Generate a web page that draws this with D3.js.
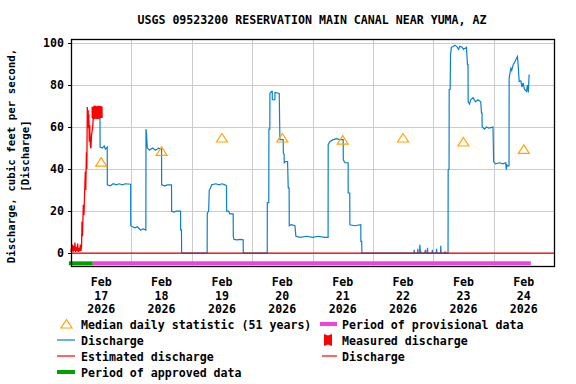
<!DOCTYPE html>
<html><head><meta charset="utf-8">
<script src="https://cdn.jsdelivr.net/npm/d3@7"></script>
<style>
body{margin:0;background:#fff;}
text{font-family:"DejaVu Sans Mono",monospace;font-weight:bold;fill:#000;}
</style></head>
<body><svg id="c" width="576" height="384"></svg>
<script>
// ---- data (x = days since 2026-02-17 00:00, y = cfs) ----
const title = "USGS 09523200 RESERVATION MAIN CANAL NEAR YUMA, AZ";
const yTicks = [0, 20, 40, 60, 80, 100];
const dayLabels = [["Feb","17","2026"],["Feb","18","2026"],["Feb","19","2026"],["Feb","20","2026"],["Feb","21","2026"],["Feb","22","2026"],["Feb","23","2026"],["Feb","24","2026"]];
const medianDaily = [[0.5,43.3],[1.5,48.4],[2.5,54.8],[3.5,54.8],[4.5,53.8],[5.5,54.8],[6.5,52.9],[7.5,49.4]];
const estimated = [[0.0,0.5],[0.01,3],[0.017,1],[0.025,4],[0.035,0.5],[0.045,3.5],[0.055,1],[0.065,5],[0.075,0.5],[0.085,3],[0.1,1],[0.11,4.5],[0.12,0.5],[0.13,2.5],[0.145,0.8],[0.155,4],[0.165,1],[0.175,3.5],[0.182,15],[0.19,8],[0.204,23],[0.215,18],[0.225,27.7],[0.237,38.8],[0.245,30],[0.255,48],[0.262,40],[0.27,69.6],[0.275,63],[0.28,62.5],[0.285,68],[0.29,59.4],[0.295,66],[0.303,53],[0.31,61],[0.32,51.4],[0.33,49.9],[0.34,56.2],[0.35,58],[0.359,60],[0.37,65]];
const measured = [[0.365,67],[0.38,66.5],[0.395,67.5],[0.41,66.8],[0.425,67.2],[0.44,66.6],[0.455,67.4],[0.47,66.9],[0.485,67.3],[0.5,67]];
const discharge = [[0.375,65],[0.40,64.5],[0.43,65],[0.47,64],[0.48,64],[0.482,50.5],[0.52,50],[0.55,51],[0.57,49.5],[0.60,50.5],[0.602,32.5],[0.65,32],[0.70,33],[0.75,32.5],[0.80,33],[0.85,32.5],[0.90,33],[0.988,32.8],[0.99,13],[1.02,12.5],[1.06,12],[1.10,12.5],[1.15,11],[1.20,11.5],[1.24,11],[1.242,59],[1.25,57],[1.264,50],[1.30,49],[1.35,50],[1.40,49],[1.45,50],[1.50,49.5],[1.501,32.5],[1.55,32],[1.60,32.5],[1.665,32.5],[1.667,20],[1.70,19.5],[1.75,20],[1.815,20],[1.816,11],[1.83,11],[1.832,0.5],[1.849,0],
[2.255,0],[2.257,19],[2.28,20],[2.29,30],[2.31,31],[2.329,32.5],[2.40,33],[2.45,32.5],[2.50,33],[2.55,32.5],[2.575,32],[2.577,20],[2.61,20],[2.63,18.7],[2.686,18.7],[2.688,8],[2.70,6.5],[2.75,6.3],[2.80,6.5],[2.852,6.3],[2.853,0],
[3.25,0],[3.252,24],[3.276,24],[3.278,59],[3.293,59],[3.295,76],[3.32,77],[3.333,77],[3.335,73],[3.377,73],[3.379,76.5],[3.449,76],[3.46,54],[3.515,54],[3.517,47.6],[3.53,47],[3.532,43],[3.56,43.6],[3.587,43.6],[3.598,31],[3.613,31],[3.615,13],[3.65,13.5],[3.709,13],[3.725,8],[3.8,7.5],[3.9,8],[4.0,7.5],[4.1,8],[4.2,7.5],[4.258,7.5],[4.26,51.6],[4.286,53],[4.343,54],[4.4,54.5],[4.45,54],[4.508,54],[4.51,44.4],[4.536,43],[4.59,43],[4.591,28.6],[4.617,28.6],[4.619,13.5],[4.70,13],[4.80,13.5],[4.801,5.6],[4.815,5.6],[4.818,0],
[5.68,0],[5.685,1.5],[5.69,0],[5.74,0],[5.745,2],[5.75,0],[5.775,0],[5.778,4],[5.785,1.5],[5.80,0],[5.86,0],[5.87,1.5],[5.88,0],[5.90,0],[5.905,2.5],[5.91,0],[5.98,0],[5.985,1.5],[5.99,0],[6.05,0],[6.055,2],[6.06,0],[6.12,0],[6.126,3.5],[6.13,0],[6.19,0],[6.195,0.8],[6.2,0],[6.245,0],[6.247,39.7],[6.262,40],[6.264,77.8],[6.28,78],[6.286,94.4],[6.30,98],[6.33,98.4],[6.36,99],[6.40,98],[6.42,97],[6.44,98.5],[6.48,98],[6.5,97],[6.55,98],[6.567,89.7],[6.576,89.7],[6.578,72],[6.60,71],[6.62,73],[6.66,74],[6.70,72],[6.74,73],[6.787,72],[6.799,66.7],[6.808,66.7],[6.81,60],[6.85,59],[6.88,60],[6.92,59.5],[6.99,60],[7.0,43.6],[7.03,42.5],[7.10,43],[7.15,42.5],[7.2,43],[7.21,39.7],[7.22,42],[7.24,41.5],[7.255,41.5],[7.257,83.3],[7.285,88],[7.30,87],[7.324,89.7],[7.35,91],[7.379,92.8],[7.395,93.6],[7.41,88],[7.423,81.7],[7.45,82],[7.47,79],[7.489,81],[7.51,78],[7.545,77],[7.56,80],[7.575,76.5],[7.588,85]];
const zeroLine = [[0,0],[8,0]];
const approvedPeriod = [-0.035, 0.359];
const provisionalPeriod = [0.359, 7.616];
const legendItems = ["Median daily statistic (51 years)","Discharge","Estimated discharge","Period of approved data","Period of provisional data","Measured discharge","Discharge"];

// ---- chart ----
const svg = d3.select("#c");
const base = new Date(2026,1,17);
const T = d => new Date(base.getTime() + d*864e5);
const L = 71, R = 554, TOP = 39.5, BOT = 266.5;
const x = d3.scaleTime().domain([T(0), T(8)]).range([L, R]);
const y = d3.scaleLinear().domain([-6.4, 101.7]).range([BOT, TOP]);
const BLUE = "#0a80d0";

svg.append("text").attr("x", 312).attr("y", 24).attr("text-anchor","middle").style("font-size","11.6px").text(title);

// grid
const g = svg.append("g");
g.selectAll(".hg").data(yTicks).join("line").attr("x1",L).attr("x2",R).attr("y1",d=>Math.round(y(d))+0.5).attr("y2",d=>Math.round(y(d))+0.5).attr("stroke","#cccccc").attr("stroke-width",1);
g.selectAll(".vg").data(d3.range(1,8)).join("line").attr("x1",d=>Math.round(x(T(d)))+0.5).attr("x2",d=>Math.round(x(T(d)))+0.5).attr("y1",TOP).attr("y2",BOT).attr("stroke","#cccccc").attr("stroke-width",1);

// y labels
svg.selectAll(".yl").data(yTicks).join("text").attr("x",64).attr("y",d=>y(d)+4).attr("text-anchor","end").style("font-size","11.6px").text(d=>d);
svg.selectAll(".yt").data(yTicks).join("line").attr("x1",L-3).attr("x2",L).attr("y1",d=>Math.round(y(d))+0.5).attr("y2",d=>Math.round(y(d))+0.5).attr("stroke","#000");

// x labels
const xl = svg.selectAll(".xl").data(dayLabels).join("text").attr("text-anchor","middle").style("font-size","11.6px");
xl.each(function(d,i){
  const t = d3.select(this), cx = x(T(i+0.5));
  d.forEach((s,j)=>t.append("tspan").attr("x",cx).attr("y",286+j*13.5).text(s));
});

// y-axis title
const yt = svg.append("text").attr("transform","translate(15,156) rotate(-90)").attr("text-anchor","middle").style("font-size","10.8px");
yt.append("tspan").attr("x",0).attr("y",0).text("Discharge, cubic feet per second,");
yt.append("tspan").attr("x",0).attr("y",13.5).text("[Discharge]");

// series
const line = d3.line().x(d=>x(T(d[0]))).y(d=>y(d[1]));
svg.append("path").datum(discharge).attr("d",line).attr("fill","none").attr("stroke",BLUE).attr("stroke-width",1.2);
svg.append("path").datum(estimated).attr("d",line).attr("fill","none").attr("stroke","#ff0000").attr("stroke-width",1.3);
svg.selectAll(".ms").data(measured).join("rect").attr("x",d=>x(T(d[0]))-1.5).attr("width",3).attr("y",d=>y(d[1]+2.7)).attr("height",d=>y(d[1]-2.7)-y(d[1]+2.7)).attr("fill","#ff0000");
svg.append("path").datum(zeroLine).attr("d",line).attr("fill","none").attr("stroke","#e00000").attr("stroke-width",1.2);

// medians
const tri = "M0,-4.5L5.5,4L-5.5,4Z";
svg.selectAll(".md").data(medianDaily).join("path").attr("d",tri).attr("transform",d=>`translate(${x(T(d[0]))},${y(d[1])})`).attr("fill","none").attr("stroke","#ffa500").attr("stroke-width",1.2);

// period bars
const barY = y(-4.9);
svg.append("line").attr("x1",x(T(provisionalPeriod[0]))).attr("x2",x(T(provisionalPeriod[1]))).attr("y1",barY).attr("y2",barY).attr("stroke","#ee44dd").attr("stroke-width",4);
svg.append("line").attr("x1",x(T(approvedPeriod[0]))).attr("x2",x(T(approvedPeriod[1]))).attr("y1",barY).attr("y2",barY).attr("stroke","#00a000").attr("stroke-width",4);

// frame
svg.append("rect").attr("x",L+0.5).attr("y",TOP).attr("width",R-L).attr("height",BOT-TOP).attr("fill","none").attr("stroke","#000").attr("stroke-width",1.3);

// legend
const lg = svg.append("g").style("font-size","11.6px");
const rows = [328.5,344.5,360.5,376.5];
// col 1
lg.append("path").attr("d",tri).attr("transform",`translate(66.5,${rows[0]-4.5})`).attr("fill","none").attr("stroke","#ffa500").attr("stroke-width",1.2);
lg.append("line").attr("x1",57).attr("x2",75).attr("y1",rows[1]-4.5).attr("y2",rows[1]-4.5).attr("stroke",BLUE).attr("stroke-width",1.2);
lg.append("line").attr("x1",57).attr("x2",75).attr("y1",rows[2]-4.5).attr("y2",rows[2]-4.5).attr("stroke","#ff0000").attr("stroke-width",1.2);
lg.append("line").attr("x1",57).attr("x2",75).attr("y1",rows[3]-4.5).attr("y2",rows[3]-4.5).attr("stroke","#00a000").attr("stroke-width",4);
[0,1,2,3].forEach(i=>lg.append("text").attr("x",81).attr("y",rows[i]).text(legendItems[i]));
// col 2
lg.append("line").attr("x1",320).attr("x2",337).attr("y1",rows[0]-4.5).attr("y2",rows[0]-4.5).attr("stroke","#ee44dd").attr("stroke-width",4);
const mx = 328, my = rows[1]-4.5;
lg.append("path").attr("d",`M${mx-4},${my-6}L${mx},${my-4.5}L${mx+4},${my-6}L${mx+4},${my+6}L${mx},${my+4.5}L${mx-4},${my+6}Z`).attr("fill","#ff0000");
lg.append("line").attr("x1",322).attr("x2",337).attr("y1",rows[2]-4.5).attr("y2",rows[2]-4.5).attr("stroke","#ff0000").attr("stroke-width",1.2);
[4,5,6].forEach((k,i)=>lg.append("text").attr("x",342).attr("y",rows[i]).text(legendItems[k]));
</script></body></html>
